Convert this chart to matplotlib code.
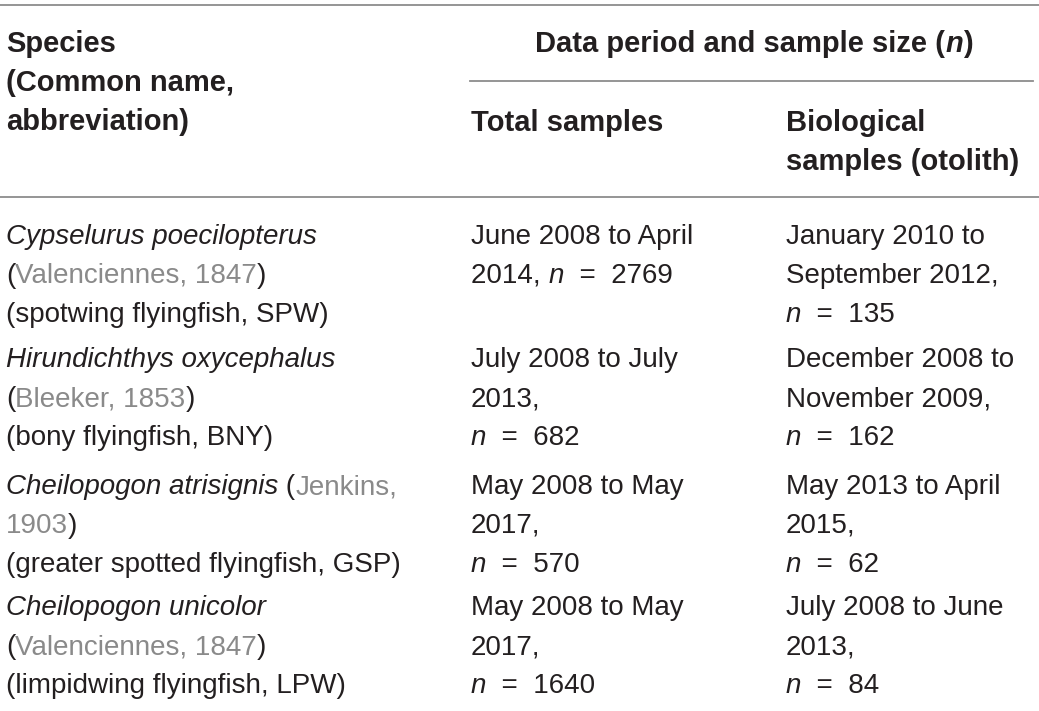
import matplotlib
matplotlib.use("Agg")
from matplotlib import pyplot as plt
from matplotlib.font_manager import FontProperties

# table content; *...* = italic, {...} = grey authority
header_species = ["Species", "(Common name,", "abbreviation)"]
header_group = "Data period and sample size (*n*)"
header_total = ["Total samples"]
header_bio = ["Biological", "samples (otolith)"]

species_cells = [
    ["*Cypselurus poecilopterus*", "({Valenciennes, 1847})", "(spotwing flyingfish, SPW)"],
    ["*Hirundichthys oxycephalus*", "({Bleeker, 1853})", "(bony flyingfish, BNY)"],
    ["*Cheilopogon atrisignis* ({Jenkins,", "{1903})", "(greater spotted flyingfish, GSP)"],
    ["*Cheilopogon unicolor*", "({Valenciennes, 1847})", "(limpidwing flyingfish, LPW)"],
]
total_cells = [
    ["June 2008 to April", "2014, *n* = 2769"],
    ["July 2008 to July", "2013,", "*n* = 682"],
    ["May 2008 to May", "2017,", "*n* = 570"],
    ["May 2008 to May", "2017,", "*n* = 1640"],
]
bio_cells = [
    ["January 2010 to", "September 2012,", "*n* = 135"],
    ["December 2008 to", "November 2009,", "*n* = 162"],
    ["May 2013 to April", "2015,", "*n* = 62"],
    ["July 2008 to June", "2013,", "*n* = 84"],
]

FAMILY = "Liberation Sans"
SIZE = 20
BOLD_SIZE = 21
INK = "#231f20"
GREY = "#8a8a8a"
RULE = "#8c8c8c"

fig = plt.figure(figsize=(10.39, 7.11), dpi=100)
ax = fig.add_axes([0, 0, 1, 1])
ax.set_xlim(0, 1039)
ax.set_ylim(711, 0)
ax.axis("off")
renderer = fig.canvas.get_renderer()


def parse(line):
    segs = []
    buf = ""
    italic = False
    grey = False
    for ch in line:
        if ch in "*{}":
            if buf:
                segs.append((buf, italic, grey))
                buf = ""
            if ch == "*":
                italic = not italic
            elif ch == "{":
                grey = True
            else:
                grey = False
        else:
            buf += ch
    if buf:
        segs.append((buf, italic, grey))
    return segs


def width(s, prop):
    # bars keep the spaces at the ends in the measure
    w1, _, _ = renderer.get_text_width_height_descent("|" + s + "|", prop, ismath=False)
    w0, _, _ = renderer.get_text_width_height_descent("||", prop, ismath=False)
    return w1 - w0


def draw_line(x, y, line, weight="normal", ha="left"):
    # the "=" in the source is set with wider spacing
    line = line.replace(" = ", "  =  ")
    segs = parse(line)
    size = BOLD_SIZE if weight == "bold" else SIZE
    props = []
    for s, it, gr in segs:
        props.append(FontProperties(family=FAMILY, size=size, weight=weight,
                                    style="italic" if it else "normal"))
    widths = [width(s, p) for (s, _, _), p in zip(segs, props)]
    if ha == "center":
        x = x - sum(widths) / 2
    for (s, it, gr), p, w in zip(segs, props, widths):
        ax.text(x, y, s, fontproperties=p, color=GREY if gr else INK,
                va="baseline", ha="left")
        x += w


def draw_cell(x, y0, lines, step=39, weight="normal"):
    for i, line in enumerate(lines):
        draw_line(x, y0 + i * step, line, weight=weight)


# column and row positions (pixels)
col_x = [6, 471, 786]
base = 9
row_y = [235, 358, 485, 606]

# rules
ax.plot([0, 1039], [5, 5], color=RULE, lw=1.3)
ax.plot([470, 1033], [81, 81], color=RULE, lw=1.3)
ax.plot([0, 1039], [197, 197], color=RULE, lw=1.3)

# header
draw_cell(col_x[0], 43 + base, header_species, weight="bold")
draw_line(754, 43 + base, header_group, weight="bold", ha="center")
draw_cell(col_x[1], 122 + base, header_total, weight="bold")
draw_cell(col_x[2], 122 + base, header_bio, weight="bold")

# body
for i in range(len(species_cells)):
    draw_cell(col_x[0], row_y[i] + base, species_cells[i])
    draw_cell(col_x[1], row_y[i] + base, total_cells[i])
    draw_cell(col_x[2], row_y[i] + base, bio_cells[i])

fig.savefig("out.png", dpi=100)
